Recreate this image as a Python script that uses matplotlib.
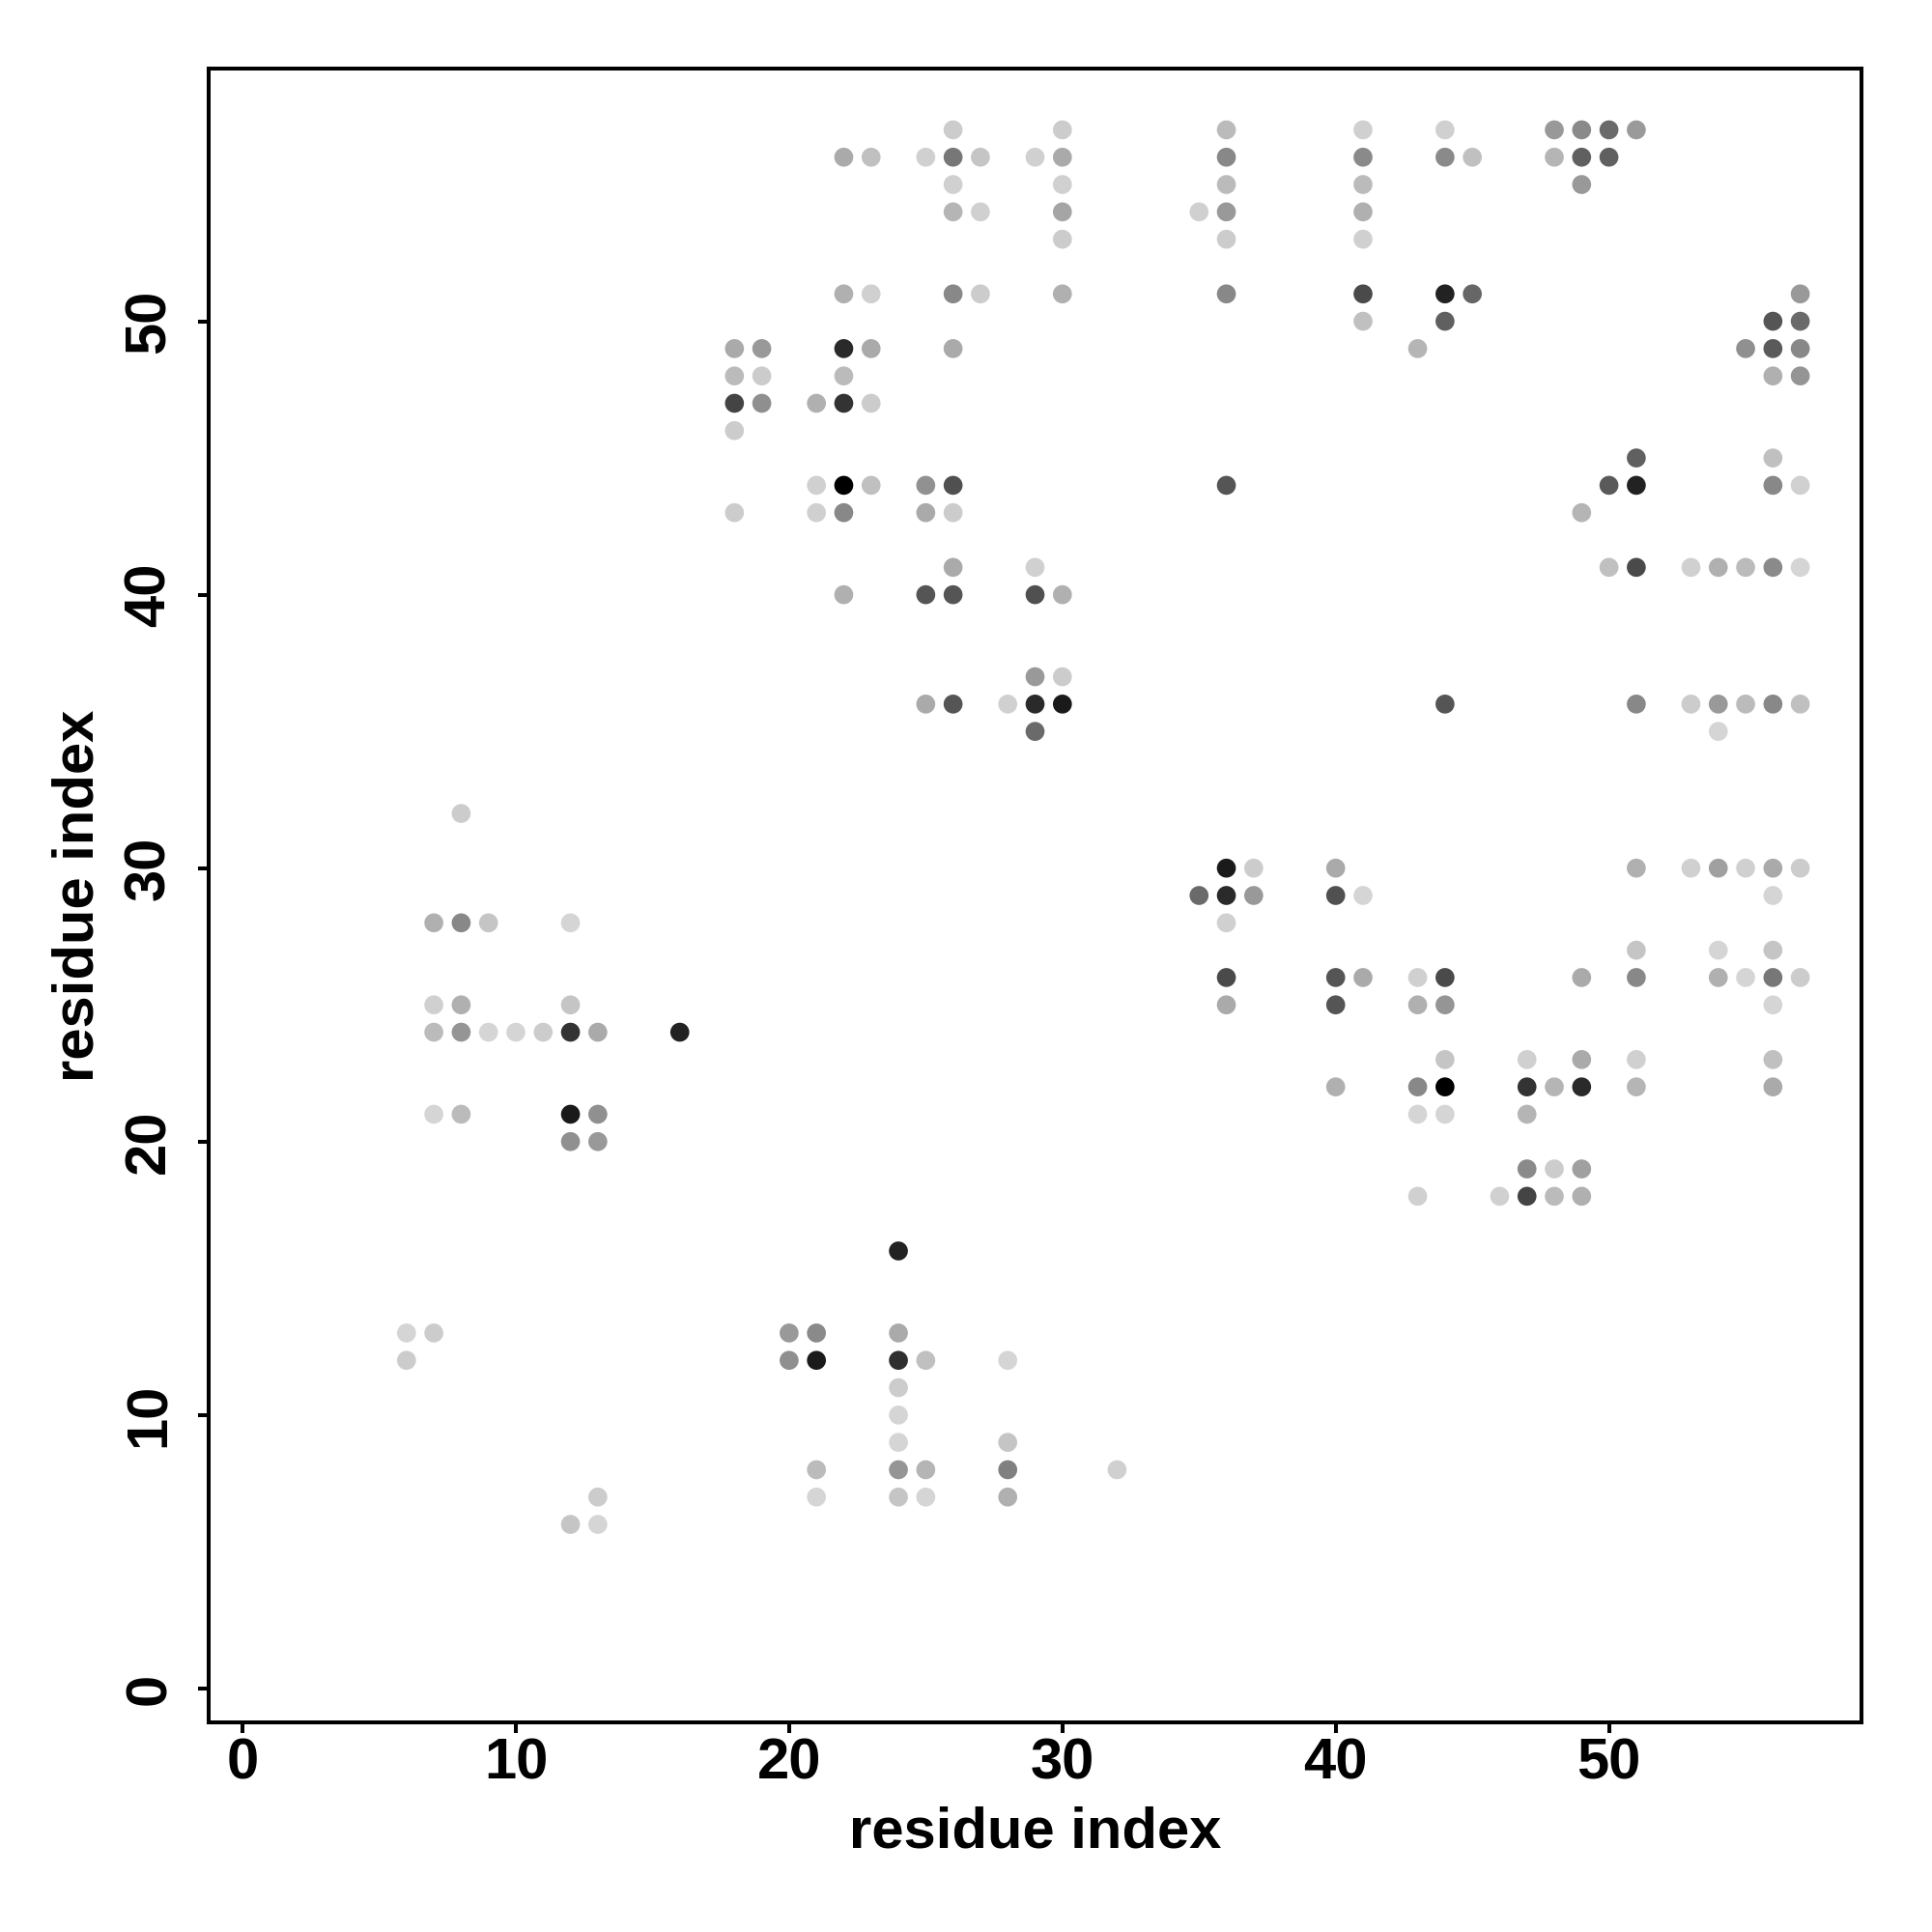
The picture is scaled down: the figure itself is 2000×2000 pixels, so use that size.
import matplotlib
matplotlib.use("Agg")
import matplotlib.pyplot as plt

# contact map: residue i, residue j, grey level of the dot (0 = black, 255 = white)
res_x = [26, 30, 36, 41, 44, 48, 49, 50, 51,
         22, 23, 25, 26, 27, 29, 30, 36, 41, 44, 45, 48, 49, 50,
         26, 30, 36, 41, 49,
         26, 27, 30, 35, 36, 41,
         30, 36, 41,
         22, 23, 26, 27, 30, 36, 41, 44, 45, 57,
         41, 44, 56, 57,
         18, 19, 22, 23, 26, 43, 55, 56, 57,
         18, 19, 22, 56, 57,
         18, 19, 21, 22, 23,
         18,
         51, 56,
         21, 22, 23, 25, 26, 36, 50, 51, 56, 57,
         18, 21, 22, 25, 26, 49,
         26, 29, 50, 51, 53, 54, 55, 56, 57,
         22, 25, 26, 29, 30,
         29, 30,
         25, 26, 28, 29, 30, 44, 51, 53, 54, 55, 56, 57,
         29, 54,
         8,
         36, 37, 40, 51, 53, 54, 55, 56, 57,
         35, 36, 37, 40, 41, 56,
         7, 8, 9, 12, 36,
         51, 54, 56,
         36, 40, 41, 43, 44, 49, 51, 54, 55, 56, 57,
         7, 8, 12, 36, 40, 43, 44, 56,
         7, 8, 9, 10, 11, 12, 13, 16,
         44, 47, 49, 51, 56,
         40, 43, 44, 47, 48, 49, 51, 56,
         7, 8, 12, 13, 43, 44, 47,
         12, 13,
         47, 48, 49,
         43, 46, 47, 48, 49,
         24,
         6, 7, 20, 21, 24,
         6, 20, 21, 24, 25, 28,
         24,
         24,
         24, 28,
         21, 24, 25, 28, 32,
         13, 21, 24, 25, 28,
         12, 13]

res_y = [57] * 9 + [56] * 14 + [55] * 5 + [54] * 6 + [53] * 3 + \
        [51] * 10 + [50] * 4 + [49] * 9 + [48] * 5 + [47] * 5 + [46] * 1 + \
        [45] * 2 + [44] * 10 + [43] * 6 + [41] * 9 + [40] * 5 + [37] * 2 + \
        [36] * 12 + [35] * 2 + [32] * 1 + [30] * 9 + [29] * 6 + [28] * 5 + \
        [27] * 3 + [26] * 11 + [25] * 8 + [24] * 8 + [23] * 5 + [22] * 8 + \
        [21] * 7 + [20] * 2 + [19] * 3 + [18] * 5 + [16] * 1 + [13] * 5 + \
        [12] * 6 + [11] * 1 + [10] * 1 + [9] * 2 + [8] * 5 + [7] * 5 + [6] * 2

grey = [204, 204, 187, 208, 208, 153, 138, 106, 154,
        170, 192, 208, 119, 197, 208, 170, 136, 138, 138, 192, 181, 96, 96,
        208, 208, 187, 187, 153,
        181, 208, 165, 208, 153, 176,
        204, 204, 208,
        176, 208, 136, 204, 176, 136, 74, 34, 102, 153,
        192, 96, 85, 106,
        170, 153, 42, 170, 170, 181, 144, 90, 136,
        187, 204, 187, 176, 149,
        68, 143, 176, 51, 204,
        204,
        96, 192,
        208, 0, 192, 145, 80, 85, 90, 34, 136, 208,
        204, 208, 136, 170, 204, 181,
        170, 208, 192, 74, 208, 176, 187, 138, 213,
        176, 85, 85, 80, 176,
        153, 204,
        170, 85, 208, 42, 26, 85, 136, 204, 153, 187, 136, 192,
        106, 213,
        204,
        26, 204, 170, 176, 208, 160, 208, 170, 204,
        106, 42, 153, 80, 213, 213,
        176, 136, 197, 213, 208,
        197, 213, 197,
        74, 85, 170, 208, 74, 170, 136, 176, 213, 119, 204,
        208, 176, 197, 170, 85, 176, 149, 213,
        187, 149, 213, 213, 204, 51, 170, 34,
        197, 208, 170, 208, 192,
        176, 136, 0, 51, 181, 42, 181, 170,
        213, 187, 26, 144, 213, 213, 181,
        144, 153,
        138, 204, 160,
        208, 208, 68, 187, 176,
        34,
        213, 204, 153, 138, 170,
        204, 143, 26, 47, 192, 213,
        204,
        213,
        213, 197,
        187, 149, 181, 128, 208,
        204, 213, 197, 213, 176,
        197, 213]

tick_vals = [0, 10, 20, 30, 40, 50]

plt.rcParams['font.family'] = ['Liberation Sans', 'DejaVu Sans']
plt.rcParams['font.weight'] = 'bold'

fig = plt.figure(figsize=(20, 20), dpi=100)
ax = fig.add_axes([0.108, 0.1085, 0.8555, 0.856])

colors = [str(g / 255) for g in grey]
ax.scatter(res_x, res_y, c=colors, s=200, linewidths=0, zorder=3)

ax.set_xlim(-1.24, 59.24)
ax.set_ylim(-1.24, 59.24)
ax.set_xticks(tick_vals)
ax.set_yticks(tick_vals)
ax.set_xticklabels([str(t) for t in tick_vals], fontsize=43, fontweight='bold')
ax.set_yticklabels([str(t) for t in tick_vals], fontsize=43, fontweight='bold',
                   rotation=90, va='center')
ax.tick_params(axis='both', length=8, width=2.9, direction='out')
ax.tick_params(axis='x', pad=3)
ax.tick_params(axis='y', pad=16)
for sp in ax.spines.values():
    sp.set_linewidth(2.9)

ax.set_xlabel('residue index', fontsize=43, fontweight='bold', labelpad=12)
ax.set_ylabel('residue index', fontsize=43, fontweight='bold', labelpad=14)

fig.savefig('out.png', dpi=100)
